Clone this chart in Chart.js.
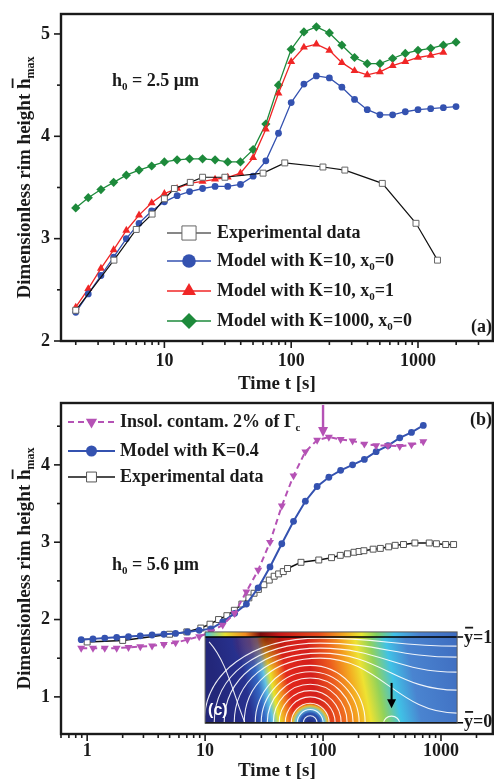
<!DOCTYPE html>
<html>
<head>
<meta charset="utf-8">
<script src="https://cdn.jsdelivr.net/npm/chart.js@4.4.0/dist/chart.umd.min.js"></script>
<style>
  body { margin: 0; background: #fff; }
  canvas { display: block; }
</style>
</head>
<body>
<canvas id="chartA" width="498" height="395"></canvas>
<canvas id="chartB" width="498" height="387"></canvas>
<script>
// ---- panel (a), h0 = 2.5 um ----
var timesA = [2.0, 2.51, 3.16, 3.98, 5.01, 6.31, 7.94, 10.0, 12.6, 15.8, 20.0, 25.1, 31.6, 39.8, 50.1, 63.1,
              79.4, 100, 126, 158, 200, 251, 316, 398, 501, 631, 794, 1000, 1259, 1585, 1995];
var blueA  = [2.28, 2.46, 2.64, 2.82, 3.00, 3.15, 3.27, 3.36, 3.42, 3.46, 3.49, 3.51, 3.51, 3.53, 3.61, 3.76,
              4.03, 4.33, 4.51, 4.59, 4.57, 4.48, 4.36, 4.26, 4.21, 4.21, 4.24, 4.26, 4.27, 4.28, 4.29];
var redA   = [2.33, 2.51, 2.71, 2.89, 3.08, 3.23, 3.35, 3.44, 3.49, 3.54, 3.56, 3.58, 3.60, 3.64, 3.79, 4.07,
              4.42, 4.73, 4.87, 4.90, 4.84, 4.72, 4.64, 4.60, 4.63, 4.69, 4.73, 4.77, 4.79, 4.82];
var greenA = [3.30, 3.40, 3.48, 3.55, 3.62, 3.67, 3.71, 3.75, 3.77, 3.78, 3.78, 3.77, 3.75, 3.75, 3.87, 4.12,
              4.50, 4.85, 5.02, 5.07, 5.01, 4.89, 4.77, 4.71, 4.71, 4.76, 4.81, 4.84, 4.86, 4.89, 4.92];
var expTimesA = [2, 4, 6, 8, 10, 12, 16, 20, 30, 60, 89, 178, 265, 523, 964, 1425];
var expA      = [2.30, 2.79, 3.09, 3.24, 3.39, 3.49, 3.55, 3.60, 3.60, 3.64, 3.74, 3.70, 3.67, 3.54, 3.15, 2.79];
var xTicksA = [10, 100, 1000];
var yTicksA = [2, 3, 4, 5];

// ---- panel (b), h0 = 5.6 um ----
var timesB = [0.89, 1.12, 1.41, 1.78, 2.24, 2.82, 3.55, 4.47, 5.62, 7.08, 8.91, 11.2, 14.1, 17.8, 22.4,
              28.2, 35.5, 44.7, 56.2, 70.8, 89.1, 112, 141, 178, 224, 282, 355, 447, 562, 708];
var blueB    = [1.74, 1.75, 1.76, 1.77, 1.78, 1.79, 1.80, 1.81, 1.82, 1.84, 1.86, 1.88, 1.97, 2.08, 2.20,
                2.41, 2.68, 2.98, 3.27, 3.53, 3.72, 3.84, 3.93, 4.00, 4.07, 4.17, 4.25, 4.35, 4.42, 4.51];
var magentaB = [1.63, 1.63, 1.63, 1.63, 1.64, 1.65, 1.66, 1.68, 1.70, 1.74, 1.78, 1.84, 1.93, 2.08, 2.36,
                2.64, 3.00, 3.47, 3.86, 4.17, 4.32, 4.36, 4.33, 4.31, 4.27, 4.25, 4.25, 4.24, 4.26, 4.30];
var expTimesB = [1.0, 2.0, 5.0, 7.0, 9.2, 11, 13, 15.3, 17.7, 20.5, 23.5, 26, 28.3, 31.5, 35, 38.5, 42, 46, 50,
                 65, 92, 118, 140, 161, 183, 202, 222, 266, 306, 360, 409, 481, 601, 795, 915, 1096, 1279];
var expB      = [1.71, 1.73, 1.81, 1.84, 1.89, 1.94, 2.00, 2.05, 2.12, 2.20, 2.28, 2.34, 2.39, 2.45, 2.51, 2.56, 2.59, 2.62, 2.66,
                 2.74, 2.77, 2.80, 2.83, 2.85, 2.87, 2.88, 2.89, 2.91, 2.92, 2.94, 2.96, 2.97, 2.99, 2.99, 2.98, 2.97, 2.97];
var xTicksB = [1, 10, 100, 1000];
var yTicksB = [1, 2, 3, 4];
var arrowTimeB = 100;              // magenta arrow
var insetBox = [10, 1370, 1.84, 0.66]; // inset (c): t range, y range

var SERIF = '"Liberation Serif", "Times New Roman", serif';
var INK = '#1a1a1a';
var BLUE = '#3452b0', RED = '#f02626', GREEN = '#1d8a3b', MAG = '#b552b5';

function pts(xs, ys) {
  return ys.map(function (y, i) { return { x: xs[i], y: y }; });
}

// text with subscripts / overbars
function richWidth(ctx, parts, size) {
  var w = 0;
  parts.forEach(function (p) {
    ctx.font = 'bold ' + (p.sub ? Math.round(size * 0.62) : size) + 'px ' + SERIF;
    w += ctx.measureText(p.t).width;
  });
  return w;
}
function drawRich(ctx, parts, x, y, size, align) {
  var w = richWidth(ctx, parts, size);
  if (align === 'center') x -= w / 2;
  ctx.textBaseline = 'middle';
  ctx.textAlign = 'left';
  parts.forEach(function (p) {
    var s = p.sub ? Math.round(size * 0.62) : size;
    ctx.font = 'bold ' + s + 'px ' + SERIF;
    var tw = ctx.measureText(p.t).width;
    ctx.fillText(p.t, x, p.sub ? y + size * 0.33 : y);
    if (p.bar) ctx.fillRect(x + 1, y - size * (p.barOff || 0.66), tw - 1, 1.8);
    x += tw;
  });
}

function minorLog(min, max) {
  var out = [];
  for (var e = -1; e <= 4; e++) {
    for (var m = 2; m <= 9; m++) {
      var v = m * Math.pow(10, e);
      if (v > min && v < max) out.push(v);
    }
  }
  return out;
}

function line(ctx, x1, y1, x2, y2) {
  ctx.beginPath(); ctx.moveTo(x1, y1); ctx.lineTo(x2, y2); ctx.stroke();
}

function drawFrame(chart, yMinor) {
  var ca = chart.chartArea, xs = chart.scales.x, ys = chart.scales.y, ctx = chart.ctx;
  ctx.save();
  ctx.strokeStyle = INK;
  ctx.lineWidth = 1.6;
  xs.ticks.forEach(function (t) {
    var px = xs.getPixelForValue(t.value);
    line(ctx, px, ca.bottom, px, ca.bottom + 7);
  });
  minorLog(xs.min, xs.max).forEach(function (v) {
    var px = xs.getPixelForValue(v);
    line(ctx, px, ca.bottom, px, ca.bottom + 4);
  });
  ys.ticks.forEach(function (t) {
    var py = ys.getPixelForValue(t.value);
    line(ctx, ca.left - 7, py, ca.left, py);
  });
  yMinor.forEach(function (v) {
    var py = ys.getPixelForValue(v);
    line(ctx, ca.left - 4, py, ca.left, py);
  });
  ctx.lineWidth = 2.4;
  ctx.strokeRect(ca.left, ca.top, ca.right - ca.left, ca.bottom - ca.top);

  // axis titles
  ctx.fillStyle = INK;
  drawRich(ctx, [{ t: 'Time t [s]' }], (ca.left + ca.right) / 2, chart.height - 11, 19, 'center');
  ctx.translate(25, (ca.top + ca.bottom) / 2);
  ctx.rotate(-Math.PI / 2);
  drawRich(ctx, [{ t: 'Dimensionless rim height ' }, { t: 'h', bar: true, barOff: 0.7 }, { t: 'max', sub: true }], 0, 0, 19, 'center');
  ctx.restore();
}

function drawLegend(chart, rows, x0, x1, tx, size) {
  var ctx = chart.ctx;
  ctx.save();
  rows.forEach(function (r) {
    var ds = chart.data.datasets[r.ds];
    ctx.strokeStyle = ds.borderColor;
    ctx.lineWidth = ds.borderWidth;
    ctx.setLineDash(ds.borderDash || []);
    line(ctx, x0, r.y, x1, r.y);
    ctx.setLineDash([]);
    ctx.fillStyle = ds.pointBackgroundColor;
    ctx.strokeStyle = ds.pointBorderColor;
    ctx.lineWidth = ds.pointBorderWidth || 0.01;
    Chart.helpers.drawPoint(ctx, { pointStyle: ds.pointStyle, radius: r.r, rotation: ds.pointRotation || 0,
      borderWidth: ds.pointBorderWidth || 0 }, (x0 + x1) / 2, r.y);
    ctx.fillStyle = INK;
    drawRich(ctx, r.parts, tx, r.y, size, 'left');
  });
  ctx.restore();
}

function baseOptions(xr, yr, xt, yt, padTop, xHeight, xPad) {
  var tickFont = { family: SERIF, weight: 'bold', size: 18 };
  return {
    responsive: false,
    animation: false,
    devicePixelRatio: 1,
    layout: { padding: { top: padTop, right: 2, left: 0, bottom: 0 } },
    plugins: { legend: { display: false }, tooltip: { enabled: false } },
    elements: { line: { tension: 0 } },
    scales: {
      x: {
        type: 'logarithmic', min: xr[0], max: xr[1],
        grid: { display: false, drawTicks: false }, border: { display: false },
        afterBuildTicks: function (s) { s.ticks = xt.map(function (v) { return { value: v }; }); },
        afterFit: function (s) { s.height = xHeight; s.paddingLeft = 0; s.paddingRight = 0; },
        ticks: { callback: function (v) { return String(v); }, font: tickFont, color: INK,
                 padding: xPad, maxRotation: 0, autoSkip: false }
      },
      y: {
        type: 'linear', min: yr[0], max: yr[1],
        grid: { display: false, drawTicks: false }, border: { display: false },
        afterBuildTicks: function (s) { s.ticks = yt.map(function (v) { return { value: v }; }); },
        afterFit: function (s) { s.width = 61; s.paddingTop = 0; s.paddingBottom = 0; },
        ticks: { callback: function (v) { return String(v); }, font: tickFont, color: INK, padding: 11 }
      }
    }
  };
}

// ---------- chart (a) ----------
var optsA = baseOptions([1.53, 3890], [2, 5.195], xTicksA, yTicksA, 14, 54, 10);
new Chart(document.getElementById('chartA'), {
  type: 'line',
  data: {
    datasets: [
      { data: pts(expTimesA, expA), borderColor: '#111', borderWidth: 1.2, pointStyle: 'rect', pointRadius: 4.2,
        pointBackgroundColor: '#fff', pointBorderColor: '#666', pointBorderWidth: 1 },
      { data: pts(timesA, blueA), borderColor: BLUE, borderWidth: 1.3, pointStyle: 'circle', pointRadius: 3.4,
        pointBackgroundColor: BLUE, pointBorderColor: BLUE, pointBorderWidth: 0 },
      { data: pts(timesA, redA), borderColor: RED, borderWidth: 1.3, pointStyle: 'triangle', pointRadius: 4.6,
        pointBackgroundColor: RED, pointBorderColor: RED, pointBorderWidth: 0 },
      { data: pts(timesA, greenA), borderColor: GREEN, borderWidth: 1.3, pointStyle: 'rectRot', pointRadius: 4.6,
        pointBackgroundColor: GREEN, pointBorderColor: GREEN, pointBorderWidth: 0 }
    ]
  },
  options: optsA,
  plugins: [{
    id: 'decorA',
    afterDraw: function (chart) {
      drawFrame(chart, [2.5, 3.5, 4.5]);
      drawLegend(chart, [
        { ds: 0, y: 233, r: 10, parts: [{ t: 'Experimental data' }] },
        { ds: 1, y: 261, r: 6.8, parts: [{ t: 'Model with K=10, x' }, { t: '0', sub: true }, { t: '=0' }] },
        { ds: 2, y: 291, r: 8, parts: [{ t: 'Model with K=10, x' }, { t: '0', sub: true }, { t: '=1' }] },
        { ds: 3, y: 321, r: 8, parts: [{ t: 'Model with K=1000, x' }, { t: '0', sub: true }, { t: '=0' }] }
      ], 167, 211, 217, 18);
      var ctx = chart.ctx;
      ctx.save();
      ctx.fillStyle = INK;
      drawRich(ctx, [{ t: 'h' }, { t: '0', sub: true }, { t: ' = 2.5 μm' }], 112, 81, 18, 'left');
      drawRich(ctx, [{ t: '(a)' }], 471, 327, 18, 'left');
      ctx.restore();
    }
  }]
});

// ---------- inset (c) ----------
function drawInset(chart) {
  var xs = chart.scales.x, ys = chart.scales.y, ctx = chart.ctx;
  var L = xs.getPixelForValue(insetBox[0]), R = xs.getPixelForValue(insetBox[1]);
  var T = ys.getPixelForValue(insetBox[2]), B = ys.getPixelForValue(insetBox[3]);
  var W = R - L, H = B - T;
  var bodyStops = [[0, '#23277a'], [0.12, '#283290'], [0.17, '#3468c4'], [0.2, '#62c2e4'], [0.225, '#e8e42a'],
    [0.255, '#f29020'], [0.29, '#e2281c'], [0.39, '#d41e1c'], [0.47, '#ec5a1e'], [0.54, '#f4a820'],
    [0.59, '#eee232'], [0.645, '#92d25a'], [0.71, '#40c2e6'], [0.79, '#4a84d0'], [1, '#3f6dc0']];
  var topStops = [[0, '#48c8e0'], [0.08, '#e6e030'], [0.16, '#f08a20'], [0.22, '#7a0a0a'], [0.3, '#c81818'],
    [0.45, '#e84a1c'], [0.56, '#f2b020'], [0.62, '#e8e830'], [0.68, '#80d060'], [0.75, '#40c0e8'],
    [0.85, '#4a80d0'], [1, '#3e6cc0']];
  ctx.save();
  ctx.beginPath(); ctx.rect(L, T, W, H); ctx.clip();
  var g = ctx.createLinearGradient(L, 0, R, 0);
  topStops.forEach(function (s) { g.addColorStop(s[0], s[1]); });
  ctx.fillStyle = g;
  ctx.fillRect(L, T, W, 6);
  for (var r = 5; r < H; r++) {
    var shift = (r / H) * 18;
    var gb = ctx.createLinearGradient(L + shift, 0, R + shift, 0);
    bodyStops.forEach(function (s) { gb.addColorStop(s[0], s[1]); });
    ctx.fillStyle = gb;
    ctx.fillRect(L, T + r, W, 1.3);
  }
  // dark red near the top of the front
  var dr = ctx.createRadialGradient(L + 0.24 * W, T + 6, 2, L + 0.24 * W, T + 6, 34);
  dr.addColorStop(0, 'rgba(120,0,0,0.75)');
  dr.addColorStop(1, 'rgba(180,20,20,0)');
  ctx.fillStyle = dr;
  ctx.fillRect(L, T + 6, W, H);
  // dark spot at the bottom
  var cx = L + 0.417 * W;
  var sp = ctx.createRadialGradient(cx, B, 0, cx, B, 22);
  sp.addColorStop(0, '#20247a');
  sp.addColorStop(0.45, '#2c52b0');
  sp.addColorStop(0.65, '#62c2e0');
  sp.addColorStop(0.8, 'rgba(240,220,40,0.8)');
  sp.addColorStop(1, 'rgba(230,60,30,0)');
  ctx.fillStyle = sp;
  ctx.fillRect(cx - 24, B - 24, 48, 24);

  // white contours
  ctx.strokeStyle = 'rgba(255,255,255,0.9)';
  ctx.lineWidth = 1.1;
  for (var k = 0; k < 9; k++) {
    var rx = 7 + 6 * k;
    ctx.beginPath();
    ctx.ellipse(cx, B, rx, rx * 1.05, 0, Math.PI, 2 * Math.PI);
    ctx.stroke();
  }
  var yRight = [B - 10, B - 33, B - 51, B - 66, B - 77];
  for (var j = 0; j < 5; j++) {
    var rxo = 66 + 10 * j, yTop = B - 65 - 5 * j;
    ctx.beginPath();
    ctx.moveTo(cx - rxo, B);
    ctx.bezierCurveTo(cx - rxo, B - 0.6 * (B - yTop), cx - rxo * 0.55, yTop, cx + 10, yTop);
    ctx.bezierCurveTo(cx + 70, yTop, R - 60, yRight[j], R, yRight[j]);
    ctx.stroke();
  }
  ctx.beginPath();
  ctx.moveTo(L + 4, T + 10);
  ctx.bezierCurveTo(L + 22, T + 30, L + 28, T + 62, L + 40, B);
  ctx.stroke();
  var bx = L + 0.74 * W;
  ctx.beginPath();
  ctx.ellipse(bx, B, 8, 7, 0, Math.PI, 2 * Math.PI);
  ctx.stroke();
  ctx.restore();

  // arrow, y lines, labels
  ctx.save();
  ctx.strokeStyle = '#000';
  ctx.fillStyle = '#000';
  ctx.lineWidth = 2;
  line(ctx, bx, T + 51, bx, B - 22);
  ctx.beginPath();
  ctx.moveTo(bx - 4.5, B - 24); ctx.lineTo(bx + 4.5, B - 24); ctx.lineTo(bx, B - 15); ctx.closePath(); ctx.fill();
  ctx.lineWidth = 1.5;
  line(ctx, L, T + 5, R + 6, T + 5);
  line(ctx, L, B - 0.5, R + 6, B - 0.5);
  ctx.strokeStyle = '#555';
  ctx.lineWidth = 1;
  ctx.strokeRect(L, T, W, H);
  ctx.fillStyle = INK;
  drawRich(ctx, [{ t: 'y', bar: true, barOff: 0.62 }, { t: '=1' }], R + 7, T + 6, 18, 'left');
  drawRich(ctx, [{ t: 'y', bar: true, barOff: 0.62 }, { t: '=0' }], R + 7, B - 1, 18, 'left');
  ctx.fillStyle = '#fff';
  ctx.font = 'bold 16px "Liberation Sans", Arial, sans-serif';
  ctx.textBaseline = 'middle';
  ctx.fillText('(c)', L + 3, B - 13);
  ctx.restore();
}

// ---------- chart (b) ----------
var optsB = baseOptions([0.605, 2750], [0.52, 4.80], xTicksB, yTicksB, 8, 48, 7);
new Chart(document.getElementById('chartB'), {
  type: 'line',
  data: {
    datasets: [
      { data: pts(timesB, magentaB), borderColor: MAG, borderWidth: 2, borderDash: [6, 4], pointStyle: 'triangle',
        pointRotation: 180, pointRadius: 4.6, pointBackgroundColor: MAG, pointBorderColor: MAG, pointBorderWidth: 0 },
      { data: pts(timesB, blueB), borderColor: BLUE, borderWidth: 2, pointStyle: 'circle', pointRadius: 3.4,
        pointBackgroundColor: BLUE, pointBorderColor: BLUE, pointBorderWidth: 0 },
      { data: pts(expTimesB, expB), borderColor: '#111', borderWidth: 1.5, pointStyle: 'rect', pointRadius: 4.2,
        pointBackgroundColor: '#fff', pointBorderColor: '#555', pointBorderWidth: 1 }
    ]
  },
  options: optsB,
  plugins: [{
    id: 'decorB',
    afterDatasetsDraw: function (chart) {
      drawInset(chart);
    },
    afterDraw: function (chart) {
      drawFrame(chart, [1.5, 2.5, 3.5, 4.5]);
      drawLegend(chart, [
        { ds: 0, y: 27, r: 6.5, parts: [{ t: 'Insol. contam. 2% of Γ' }, { t: 'c', sub: true }] },
        { ds: 1, y: 56, r: 5.5, parts: [{ t: 'Model with K=0.4' }] },
        { ds: 2, y: 82, r: 7, parts: [{ t: 'Experimental data' }] }
      ], 68, 115, 120, 18);
      var ctx = chart.ctx, xs = chart.scales.x, ca = chart.chartArea;
      ctx.save();
      ctx.fillStyle = INK;
      drawRich(ctx, [{ t: 'h' }, { t: '0', sub: true }, { t: ' = 5.6 μm' }], 112, 170, 18, 'left');
      drawRich(ctx, [{ t: '(b)' }], 470, 25, 18, 'left');
      // magenta arrow marking t = 100 s
      var ax = xs.getPixelForValue(arrowTimeB);
      ctx.strokeStyle = MAG;
      ctx.fillStyle = MAG;
      ctx.lineWidth = 2.4;
      line(ctx, ax, ca.top + 2, ax, ca.top + 26);
      ctx.beginPath();
      ctx.moveTo(ax - 5, ca.top + 24); ctx.lineTo(ax + 5, ca.top + 24); ctx.lineTo(ax, ca.top + 34); ctx.closePath(); ctx.fill();
      ctx.restore();
    }
  }]
});
</script>
</body>
</html>
